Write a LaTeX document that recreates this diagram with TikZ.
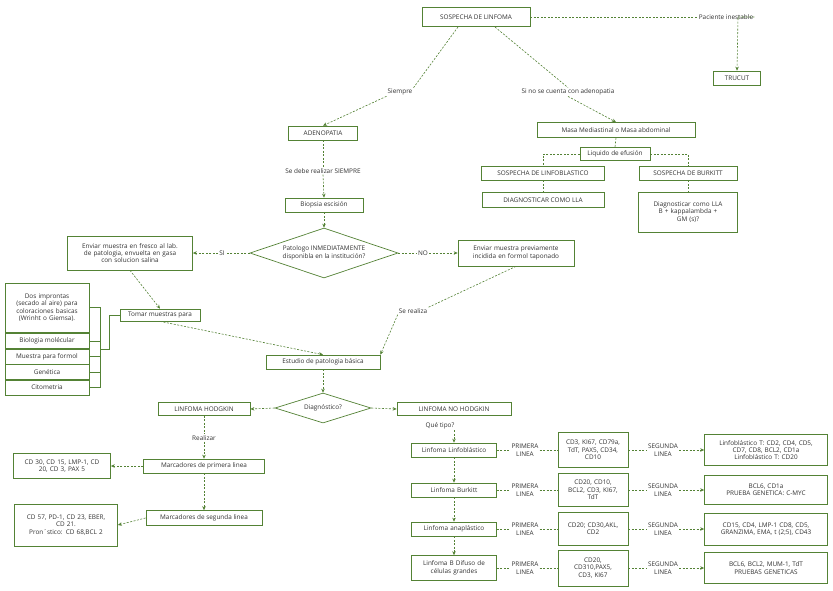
\documentclass[tikz,border=0pt]{standalone}
\usepackage{fontspec}
\setmainfont{Open Sans}
\usetikzlibrary{shapes.geometric,arrows.meta}
\definecolor{gr}{RGB}{84,130,53}
\definecolor{tx}{RGB}{50,50,50}
\begin{document}
\begin{tikzpicture}[x=1pt,y=-1pt,
 every node/.style={font=\fontsize{6.4}{7.4}\selectfont,text=tx,inner sep=1pt},
 box/.style={draw=gr,line width=0.7pt,align=center,inner sep=1.5pt},
 dia/.style={diamond,draw=gr,line width=0.7pt,align=center,aspect=3,inner sep=0pt},
 lk/.style={draw=gr,line width=0.6pt,dashed,dash pattern=on 2pt off 1.5pt},
 ar/.style={lk,-{Stealth[length=4pt,width=3.5pt]}},
 sl/.style={draw=gr,line width=0.6pt},
 lb/.style={fill=white,inner sep=1.5pt}]
\useasboundingbox (0,0) rectangle (833,590);
\fill[white] (0,0) rectangle (833,590);
% top
\node[box,minimum width=108,minimum height=19] (sos) at (476,17) {SOSPECHA DE LINFOMA};
\node[box,minimum width=47,minimum height=14] (tru) at (737,78) {TRUCUT};
\node (pi) at (726,17) {Paciente inestable};
\coordinate (c1) at (738,17);
\draw[lk] (sos.east) -- (pi.west);
\draw[ar] (pi.east) -- (c1) -- (tru.north);
\node[box,minimum width=69,minimum height=14] (ade) at (323,133) {ADENOPATIA};
\node[box,minimum width=158,minimum height=15] (masa) at (616,130) {Masa Mediastinal o Masa abdominal};
\node (siem) at (400,92) {Siempre};
\node (sino) at (568,92) {Si no se cuenta con adenopatia};
\draw[lk] (458,27) -- (siem.north east);
\draw[ar] (siem.south west) -- (ade.north);
\draw[lk] (495,27) -- (sino.north);
\draw[ar] (sino.south) -- (masa.north);
% right branch
\node[box,minimum width=70,minimum height=13] (liq) at (615,154) {Liquido de efusión};
\node[box,minimum width=123,minimum height=14] (sl1) at (543,173) {SOSPECHA DE LINFOBLASTICO};
\node[box,minimum width=98,minimum height=14] (sb) at (688,173) {SOSPECHA DE BURKITT};
\node[box,minimum width=122,minimum height=15] (dl) at (543,200) {DIAGNOSTICAR COMO LLA};
\node[box,minimum width=99,minimum height=40,text width=92] (db) at (688,212) {Diagnosticar como LLA\\B + kappalambda +\\GM (s)?};
\draw[lk] (masa.south) -- (liq.north);
\draw[lk] (liq.west) -| (sl1.north);
\draw[lk] (liq.east) -| (sb.north);
\draw[lk] (sl1.south) -- (dl.north);
\draw[lk] (sb.south) -- (db.north);
% left branch
\node (sdr) at (323,171) {Se debe realizar SIEMPRE};
\node[box,minimum width=78,minimum height=14] (bio) at (324,205) {Biopsia escisión};
\draw[lk] (ade.south) -- (sdr.north);
\draw[ar] (sdr.south) -- (bio.north);
\node[dia,minimum width=148,minimum height=50] (pat) at (324,253) {Patologo INMEDIATAMENTE\\disponibla en la institución?};
\draw[ar] (bio.south) -- (pat.north);
\node[box,minimum width=125,minimum height=34,text width=120] (env) at (130,253) {Enviar muestra en fresco al lab.\\de patologia, envuelta en gasa\\con solucion salina};
\node[box,minimum width=116,minimum height=26,text width=112] (envf) at (516,253) {Enviar muestra previamente\\incidida en formol taponado};
\node (si) at (222,253) {SI};
\node (no) at (423,253) {NO};
\draw[lk] (pat.west) -- (si.east);
\draw[ar] (si.west) -- (env.east);
\draw[lk] (pat.east) -- (no.west);
\draw[ar] (no.east) -- (envf.west);
\node[box,minimum width=80,minimum height=12] (tom) at (160,315) {Tomar muestras para};
\draw[ar] (env.south) -- (tom.north);
\node[box,minimum width=84,minimum height=49,text width=80] (dos) at (47,307.5) {Dos improntas\\(secado al aire) para\\coloraciones basicas\\(Wrinht o Giemsa).};
\node[box,minimum width=84,minimum height=15] (bm) at (47,341) {Biologia molécular};
\node[box,minimum width=84,minimum height=15] (mf) at (47,356.5) {Muestra para formol};
\node[box,minimum width=84,minimum height=15] (gen) at (47,372) {Genética};
\node[box,minimum width=84,minimum height=15] (cit) at (47,387.5) {Citometria};
\coordinate (b1) at (100,307.5);
\coordinate (b2) at (100,387.5);
\coordinate (b3) at (109,315);
\coordinate (b4) at (100,349);
\draw[sl] (dos.east) -- (b1) -- (b2) -- (cit.east);
\draw[sl] (bm.east -| b1) -- (bm.east);
\draw[sl] (mf.east -| b1) -- (mf.east);
\draw[sl] (gen.east -| b1) -- (gen.east);
\draw[sl] (tom.west) -- (b3) |- (b4);
\node[box,minimum width=114,minimum height=14] (est) at (323,362) {Estudio de patologia básica};
\node (ser) at (413,311) {Se realiza};
\draw[lk] (envf.south) -- (ser.north east);
\draw[ar] (ser.south west) -- (est.north east);
\draw[ar] (tom.south) -- (est.north);
\node[dia,minimum width=96,minimum height=30] (dg) at (323,408) {Diagnóstico?};
\draw[ar] (est.south) -- (dg.north);
\node[box,minimum width=92,minimum height=13] (lh) at (204,409) {LINFOMA HODGKIN};
\node[box,minimum width=114,minimum height=13] (lnh) at (454,409) {LINFOMA NO HODGKIN};
\draw[ar] (dg.west) -- (lh.east);
\draw[ar] (dg.east) -- (lnh.west);
% Hodgkin
\node (rea) at (204,438) {Realizar};
\node[box,minimum width=121,minimum height=14] (m1) at (204,466) {Marcadores de primera linea};
\node[box,minimum width=116,minimum height=15] (m2) at (204,518) {Marcadores de segunda linea};
\node[box,minimum width=97,minimum height=25,text width=94] (c1b) at (62,466) {CD 30, CD 15, LMP-1, CD\\20, CD 3, PAX 5};
\node[box,minimum width=103,minimum height=42,text width=100] (c2b) at (66,525) {CD 57, PD-1, CD 23, EBER,\\CD 21.\\Pron´stico:  CD 68,BCL 2};
\draw[lk] (lh.south) -- (rea.north);
\draw[ar] (rea.south) -- (m1.north);
\draw[ar] (m1.south) -- (m2.north);
\draw[ar] (m1.west) -- (c1b.east);
\draw[ar] (m2.west) -- (c2b.east);
% No Hodgkin
\node (qt) at (440,426) {Qué tipo?};
\foreach \n/\y/\h/\t in {a/450/14/Linfoma Linfoblástico, b/490/14/Linfoma Burkitt, c/529/14/Linfoma anaplástico, d/568/25/{Linfoma B Difuso de\\células grandes}}{
 \node[box,minimum width=85,minimum height=\h,text width=82] (t\n) at (454,\y) {\t};
}
\draw[ar] (qt.south -| ta.north) -- (ta.north);
\draw[ar] (ta.south) -- (tb.north);
\draw[ar] (tb.south) -- (tc.north);
\draw[ar] (tc.south) -- (td.north);
\foreach \n/\y/\ha/\ta/\hb/\tb in {
 a/450/35/{CD3, KI67, CD79a,\\TdT, PAX5, CD34,\\CD10}/31/{Linfoblástico T: CD2, CD4, CD5,\\CD7, CD8, BCL2, CD1a\\Linfoblástico T: CD20},
 b/490/33/{CD20, CD10,\\BCL2, CD3, KI67,\\TdT}/29/{BCL6, CD1a\\PRUEBA GENETICA: C-MYC},
 c/529/33/{CD20; CD30,AKL,\\CD2}/32/{CD15, CD4, LMP-1 CD8, CD5,\\GRANZIMA, EMA, t (2;5), CD43},
 d/568/36/{CD20,\\CD310,PAX5,\\CD3, KI67}/31/{BCL6, BCL2, MUM-1, TdT\\PRUEBAS GENETICAS}}{
 \node[align=center] (p\n) at (525,\y) {PRIMERA\\LINEA};
 \node[box,minimum width=70,minimum height=\ha,text width=67] (f\n) at (593,\y) {\ta};
 \node[align=center] (s\n) at (663,\y) {SEGUNDA\\LINEA};
 \node[box,minimum width=123,minimum height=\hb,text width=120] (g\n) at (766,\y) {\tb};
 \draw[lk] (t\n.east) -- (p\n.west);
 \draw[lk] (p\n.east) -- (f\n.west);
 \draw[lk] (f\n.east) -- (s\n.west);
 \draw[ar] (s\n.east) -- (g\n.west);
}
\end{tikzpicture}
\end{document}
